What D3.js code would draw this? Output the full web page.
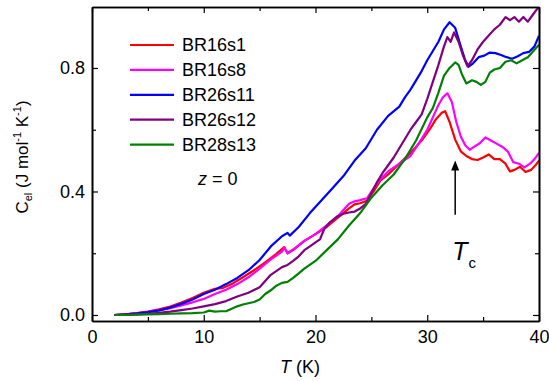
<!DOCTYPE html>
<html>
<head>
<meta charset="utf-8">
<script src="https://cdn.jsdelivr.net/npm/d3@7"></script>
<style>
  body { margin: 0; background: #fff; }
  text { font-family: Arial, "Liberation Sans", sans-serif; fill: #000; }
</style>
</head>
<body>
<svg id="chart" width="549" height="381"></svg>
<script>
// series names + colours (legend order)
const seriesNames = ['BR16s1', 'BR16s8', 'BR26s11', 'BR26s12', 'BR28s13']
const seriesColors = ['#ff0000', '#ff00ff', '#0000ff', '#800080', '#008000']

// temperature (K) and C_el values
const tBR16s1 = [2, 3, 4, 5, 6, 7, 8, 9, 10, 11, 11.7, 12.5, 13.5, 14.5, 15.5, 16.5, 17.2, 17.5, 18, 19, 20, 21, 22, 23, 23.5, 24, 24.6, 25.2, 25.8, 26.5, 27.5, 28.5, 29.5, 30.2, 30.8, 31.3, 31.6, 32, 32.5, 33, 33.5, 34, 34.5, 35, 35.5, 36, 36.5, 37, 37.4, 37.8, 38.3, 38.8, 39.3, 39.8, 40]
const cBR16s1 = [0, 0.002, 0.006, 0.011, 0.018, 0.027, 0.04, 0.055, 0.072, 0.085, 0.087, 0.1, 0.122, 0.145, 0.17, 0.198, 0.22, 0.2, 0.212, 0.24, 0.262, 0.285, 0.315, 0.345, 0.358, 0.362, 0.37, 0.4, 0.435, 0.455, 0.49, 0.525, 0.565, 0.6, 0.635, 0.655, 0.66, 0.625, 0.568, 0.53, 0.515, 0.505, 0.502, 0.51, 0.52, 0.505, 0.505, 0.49, 0.465, 0.47, 0.48, 0.463, 0.47, 0.49, 0.5]

const tBR16s8 = [2, 3, 4, 5, 6, 7, 8, 9, 10, 11, 12, 13, 14, 15, 16, 17, 17.2, 17.5, 18, 19, 20, 21, 22, 22.5, 23, 23.5, 24, 24.6, 25.2, 25.8, 26.5, 27.5, 28.5, 29.4, 30, 30.5, 31, 31.4, 31.8, 32.2, 32.6, 33, 33.4, 33.8, 34.2, 34.7, 35.2, 35.7, 36.2, 36.7, 37.2, 37.7, 38.2, 38.7, 39.2, 39.6, 40]
const cBR16s8 = [0, 0.002, 0.005, 0.009, 0.015, 0.022, 0.031, 0.041, 0.052, 0.068, 0.082, 0.1, 0.122, 0.15, 0.18, 0.205, 0.218, 0.2, 0.21, 0.24, 0.262, 0.29, 0.32, 0.34, 0.36, 0.368, 0.372, 0.378, 0.41, 0.44, 0.465, 0.49, 0.515, 0.565, 0.6, 0.64, 0.68, 0.705, 0.718, 0.69, 0.625, 0.578, 0.55, 0.535, 0.545, 0.556, 0.575, 0.565, 0.555, 0.545, 0.53, 0.495, 0.49, 0.478, 0.49, 0.505, 0.525]

const tBR26s11 = [2, 3, 4, 5, 6, 7, 8, 9, 10, 11, 12, 13, 14, 15, 16, 17, 17.5, 17.7, 18.5, 19.5, 20.5, 21.5, 22.5, 23.5, 24.5, 25.5, 26.5, 27.5, 28, 28.5, 29, 29.5, 30, 30.5, 31, 31.5, 32, 32.5, 33, 33.4, 33.7, 34.1, 34.6, 35.1, 35.6, 36.1, 36.6, 37.1, 37.6, 38.1, 38.6, 39.1, 39.6, 40]
const cBR26s11 = [0, 0.002, 0.005, 0.009, 0.015, 0.024, 0.036, 0.05, 0.068, 0.082, 0.1, 0.12, 0.145, 0.178, 0.222, 0.255, 0.266, 0.257, 0.285, 0.33, 0.37, 0.41, 0.45, 0.5, 0.54, 0.6, 0.645, 0.675, 0.705, 0.73, 0.76, 0.79, 0.825, 0.855, 0.885, 0.925, 0.948, 0.93, 0.87, 0.825, 0.804, 0.815, 0.835, 0.84, 0.85, 0.848, 0.842, 0.835, 0.83, 0.838, 0.848, 0.852, 0.87, 0.905]

const tBR26s12 = [2, 3, 4, 5, 6, 7, 8, 9, 10, 11, 12, 13, 14, 15, 16, 17, 17.5, 18, 18.5, 19, 19.5, 20, 20.4, 20.8, 21.3, 21.9, 22.5, 23, 23.5, 24, 24.5, 25, 25.5, 26, 26.5, 27, 27.5, 28, 28.5, 29, 29.5, 30, 30.5, 31, 31.5, 31.8, 32.1, 32.4, 32.8, 33.2, 33.6, 34, 34.5, 35, 35.5, 36, 36.5, 37, 37.4, 37.8, 38.2, 38.6, 39, 39.4, 39.8, 40]
const cBR26s12 = [0, 0.001, 0.002, 0.004, 0.007, 0.011, 0.016, 0.021, 0.028, 0.035, 0.045, 0.06, 0.072, 0.09, 0.13, 0.155, 0.162, 0.175, 0.19, 0.21, 0.222, 0.235, 0.245, 0.28, 0.3, 0.318, 0.328, 0.332, 0.335, 0.345, 0.36, 0.395, 0.43, 0.46, 0.485, 0.51, 0.54, 0.57, 0.6, 0.625, 0.65, 0.7, 0.755, 0.81, 0.87, 0.9, 0.885, 0.915, 0.885, 0.84, 0.805, 0.825, 0.86, 0.885, 0.905, 0.925, 0.94, 0.965, 0.955, 0.965, 0.95, 0.965, 0.95, 0.97, 0.99, 0.995]

const tBR28s13 = [2, 3, 4, 5, 6, 7, 8, 9, 10, 10.5, 11, 11.5, 12, 12.5, 13, 13.5, 14, 14.5, 15, 15.5, 16, 16.5, 17, 17.5, 18, 18.5, 19, 20, 21, 22, 23, 24, 25, 26, 27, 28, 29, 30, 30.5, 31, 31.5, 32, 32.5, 32.8, 33.1, 33.5, 34, 34.4, 34.8, 35.2, 35.6, 36, 36.5, 37, 37.5, 38, 38.5, 39, 39.5, 40]
const cBR28s13 = [0, 0, 0.001, 0.002, 0.003, 0.004, 0.005, 0.006, 0.008, 0.014, 0.011, 0.012, 0.012, 0.02, 0.028, 0.034, 0.038, 0.042, 0.05, 0.068, 0.08, 0.095, 0.104, 0.107, 0.12, 0.135, 0.15, 0.175, 0.21, 0.245, 0.29, 0.33, 0.38, 0.42, 0.455, 0.505, 0.565, 0.64, 0.67, 0.72, 0.775, 0.8, 0.818, 0.81, 0.78, 0.75, 0.76, 0.755, 0.745, 0.755, 0.785, 0.795, 0.8, 0.82, 0.825, 0.815, 0.825, 0.835, 0.855, 0.875]

// axis ticks
const xMajorTicks = [0, 10, 20, 30, 40]
const xMinorTicks = [5, 15, 25, 35]
const yMajorTicks = [0, 0.4, 0.8]
const yMinorTicks = [0.2, 0.6]

// Tc arrow (T, C from, C to)
const tcArrow = [32.5, 0.325, 0.5]

const margin = { top: 7, right: 10, bottom: 60, left: 92 }
const width = 549 - margin.left - margin.right
const height = 381 - margin.top - margin.bottom

/**
 * Adds one axis: major ticks (with or without labels) and minor ticks, all pointing inward
 */
function drawAxis (g, axisFn, scale, major, minor, fmt, pad) {
  g.append('g').call(axisFn(scale).tickValues(major).tickSizeInner(-6).tickSizeOuter(0)
    .tickPadding(pad).tickFormat(fmt ? d3.format(fmt) : ''))
  g.append('g').call(axisFn(scale).tickValues(minor).tickSizeInner(-4).tickSizeOuter(0).tickFormat(''))
}

const svg = d3.select('#chart')
const g = svg.append('g').attr('transform', `translate(${margin.left},${margin.top})`)

const x = d3.scaleLinear().domain([0, 40]).range([0, width])
const y = d3.scaleLinear().domain([-0.0195, 0.9975]).range([height, 0])

const series = [
  { t: tBR16s1, c: cBR16s1 },
  { t: tBR16s8, c: cBR16s8 },
  { t: tBR26s11, c: cBR26s11 },
  { t: tBR26s12, c: cBR26s12 },
  { t: tBR28s13, c: cBR28s13 }
]

const line = d3.line().x(d => x(d[0])).y(d => y(d[1]))

g.selectAll('path.curve')
  .data(series)
  .join('path')
  .attr('class', 'curve')
  .attr('fill', 'none')
  .attr('stroke', (d, i) => seriesColors[i])
  .attr('stroke-width', 2.2)
  .attr('stroke-linejoin', 'round')
  .attr('d', d => line(d.t.map((t, i) => [t, d.c[i]])))

// axes
const axBottom = g.append('g').attr('transform', `translate(0,${height})`)
drawAxis(axBottom, d3.axisBottom, x, xMajorTicks, xMinorTicks, 'd', 9)
const axTop = g.append('g')
drawAxis(axTop, d3.axisTop, x, xMajorTicks, xMinorTicks, null, 3)
const axLeft = g.append('g')
drawAxis(axLeft, d3.axisLeft, y, yMajorTicks, yMinorTicks, '.1f', 7)
const axRight = g.append('g').attr('transform', `translate(${width},0)`)
drawAxis(axRight, d3.axisRight, y, yMajorTicks, yMinorTicks, null, 3)

g.selectAll('.tick text').style('font-size', '18px').style('font-family', 'Arial, "Liberation Sans", sans-serif')
g.selectAll('.domain').attr('stroke-width', 1.6)
g.selectAll('.tick line').attr('stroke-width', 1.2)

// Tc arrow
g.append('line')
  .attr('x1', x(tcArrow[0])).attr('x2', x(tcArrow[0]))
  .attr('y1', y(tcArrow[1])).attr('y2', y(tcArrow[2]) + 9)
  .attr('stroke', '#000').attr('stroke-width', 1.5)
g.append('path')
  .attr('d', `M${x(tcArrow[0]) - 4},${y(tcArrow[2]) + 10}L${x(tcArrow[0])},${y(tcArrow[2])}L${x(tcArrow[0]) + 4},${y(tcArrow[2]) + 10}Z`)
  .attr('fill', '#000')

const tc = g.append('text')
  .attr('x', x(tcArrow[0]) - 3).attr('y', y(tcArrow[1]) + 45)
  .style('font-size', '25px')
tc.append('tspan').text('T').style('font-style', 'italic')
tc.append('tspan').text('c').style('font-size', '15px').attr('dx', 1).attr('dy', 8)

// legend
const legend = svg.append('g').attr('transform', 'translate(130,45)')
legend.selectAll('g')
  .data(seriesNames)
  .join('g')
  .attr('transform', (d, i) => `translate(0,${i * 24.9})`)
  .each(function (d, i) {
    d3.select(this).append('line').attr('x1', 0).attr('x2', 44)
      .attr('stroke', seriesColors[i]).attr('stroke-width', 2.2)
    d3.select(this).append('text').attr('x', 52).attr('dy', '0.35em')
      .style('font-size', '18px').text(d)
  })

const zlab = svg.append('text').attr('x', 198).attr('y', 185).style('font-size', '18px')
zlab.append('tspan').text('z').style('font-style', 'italic')
zlab.append('tspan').text(' = 0')

// axis titles
const xt = svg.append('text').attr('x', 300).attr('y', 373).attr('text-anchor', 'middle').style('font-size', '18px')
xt.append('tspan').text('T').style('font-style', 'italic')
xt.append('tspan').text(' (K)')

const yt = svg.append('text')
  .attr('transform', 'translate(28,157) rotate(-90)')
  .attr('text-anchor', 'middle')
  .style('font-size', '17px')
yt.append('tspan').text('C')
yt.append('tspan').text('el').style('font-size', '11px').attr('dy', 4)
yt.append('tspan').text(' (J mol').attr('dy', -4)
yt.append('tspan').text('-1').style('font-size', '11px').attr('dy', -7)
yt.append('tspan').text(' K').attr('dy', 7)
yt.append('tspan').text('-1').style('font-size', '11px').attr('dy', -7)
yt.append('tspan').text(')').attr('dy', 7)
</script>
</body>
</html>
